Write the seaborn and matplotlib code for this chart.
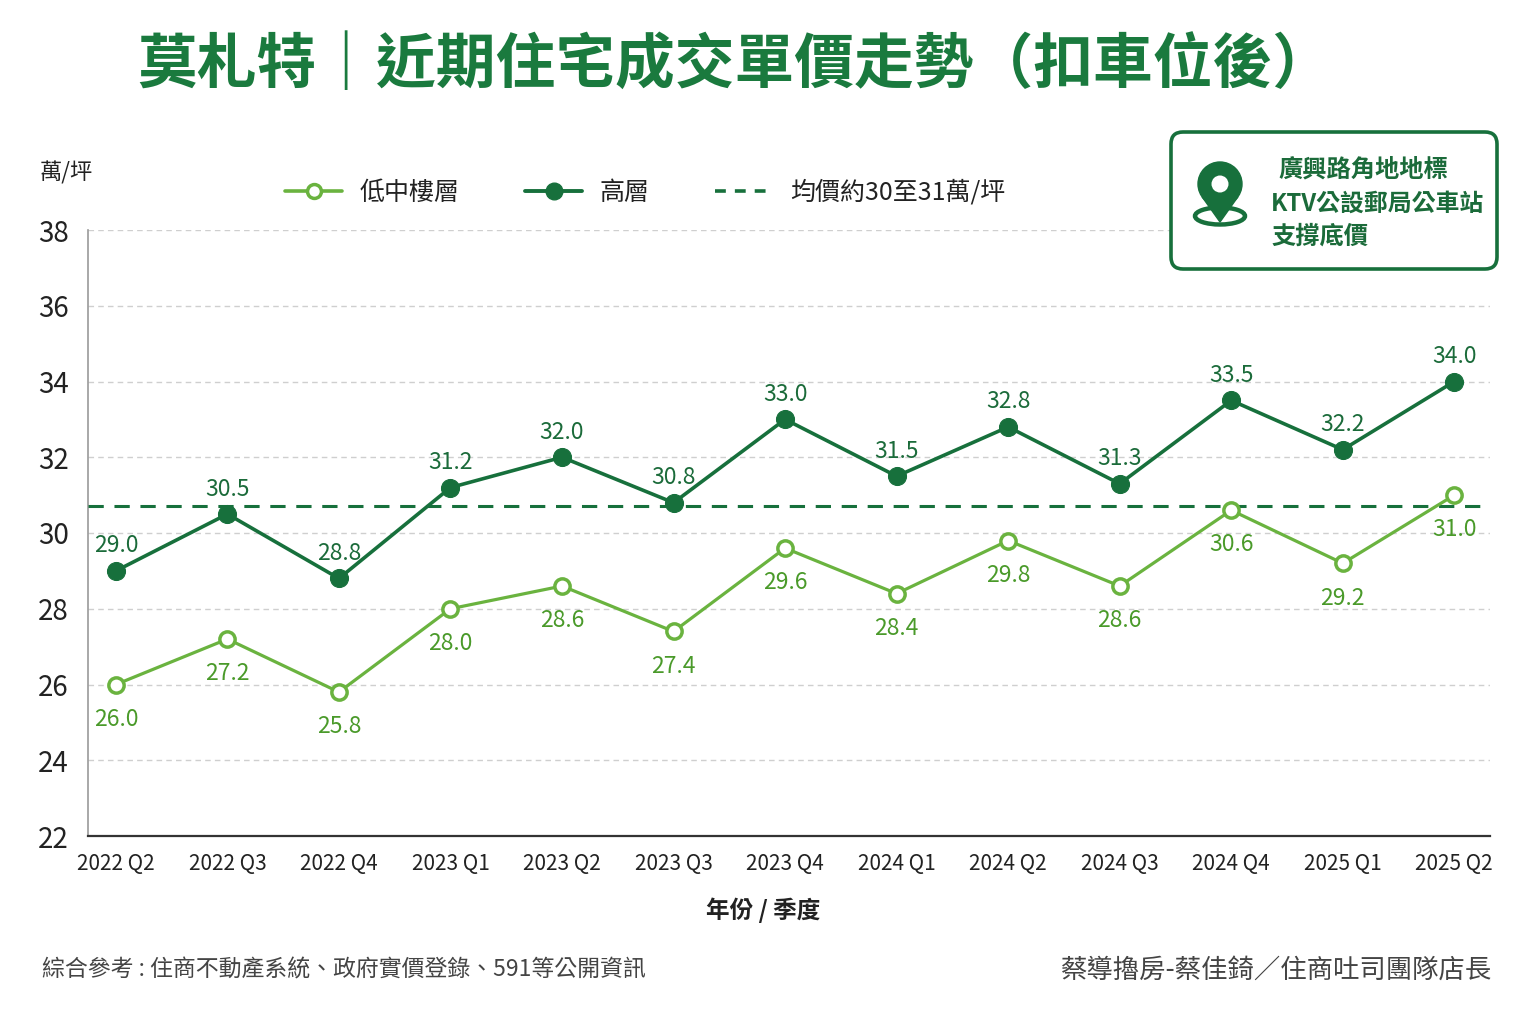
import numpy as np
import pandas as pd
import matplotlib
matplotlib.use('Agg')
import matplotlib.pyplot as plt
from matplotlib.lines import Line2D
from matplotlib.patches import FancyBboxPatch, Circle, Polygon, Ellipse
import seaborn as sns

# Dados
quarters = ['2022 Q2', '2022 Q3', '2022 Q4', '2023 Q1', '2023 Q2', '2023 Q3', '2023 Q4',
            '2024 Q1', '2024 Q2', '2024 Q3', '2024 Q4', '2025 Q1', '2025 Q2']
low_mid = [26.0, 27.2, 25.8, 28.0, 28.6, 27.4, 29.6, 28.4, 29.8, 28.6, 30.6, 29.2, 31.0]
high = [29.0, 30.5, 28.8, 31.2, 32.0, 30.8, 33.0, 31.5, 32.8, 31.3, 33.5, 32.2, 34.0]
avg_price = 30.7
yticks = [22, 24, 26, 28, 30, 32, 34, 36, 38]

DARK = '#17703c'
LIGHT = '#6ab33f'
LIGHT_TXT = '#4a9a2a'
DARK_TXT = '#1b6b3a'

sns.set_theme(style='white')
plt.rcParams['font.family'] = ['Noto Sans CJK TC', 'DejaVu Sans']

df = pd.DataFrame({'pos': np.arange(len(quarters)), 'quarter': quarters,
                   'low': low_mid, 'high': high})

fig = plt.figure(figsize=(15.36, 10.24), dpi=100)
ax = fig.add_axes([88 / 1536, 1 - 836 / 1024, (1490 - 88) / 1536, (836 - 230) / 1024])

sns.lineplot(data=df, x='pos', y='high', ax=ax, color=DARK, lw=2.6, marker='o',
             markersize=13, markerfacecolor=DARK, markeredgecolor=DARK, zorder=4)
sns.lineplot(data=df, x='pos', y='low', ax=ax, color=LIGHT, lw=2.3, marker='o',
             markersize=11, markerfacecolor='white', markeredgecolor=LIGHT,
             markeredgewidth=2.5, zorder=4)
ax.axhline(avg_price, color=DARK, lw=2.2, ls=(0, (5, 3.5)), zorder=3)

for i, v in enumerate(high):
    ax.annotate(f'{v:.1f}', (i, v), xytext=(0, 18), textcoords='offset points',
                ha='center', va='center', fontsize=16.5, color=DARK_TXT)
for i, v in enumerate(low_mid):
    ax.annotate(f'{v:.1f}', (i, v), xytext=(0, -25), textcoords='offset points',
                ha='center', va='center', fontsize=16.5, color=LIGHT_TXT)

ax.set_xlim(-0.25, 12.32)
ax.set_ylim(22, 38)
ax.set_yticks(yticks)
ax.set_yticklabels([str(t) for t in yticks], fontsize=20, color='#222222')
ax.set_xticks(df['pos'])
ax.set_xticklabels(quarters, fontsize=15, color='#222222')
ax.tick_params(axis='both', length=0)
ax.tick_params(axis='x', pad=12)
ax.tick_params(axis='y', pad=14)
ax.set_xlabel('')
ax.set_ylabel('')
ax.yaxis.grid(True, ls=(0, (4, 3)), color='#cfcfcf', lw=1)
ax.xaxis.grid(False)
for s in ['top', 'right']:
    ax.spines[s].set_visible(False)
ax.spines['left'].set_color('#999999')
ax.spines['left'].set_linewidth(1.2)
ax.spines['bottom'].set_color('#333333')
ax.spines['bottom'].set_linewidth(1.6)

# Textos
fig.text(735 / 1536, 1 - 66 / 1024, '莫札特｜近期住宅成交單價走勢（扣車位後）', ha='center',
         va='center', fontsize=43, fontweight='bold', color='#1a7a3e')
fig.text(40 / 1536, 1 - 173 / 1024, '萬/坪', ha='left', va='center', fontsize=16, color='#222222')
fig.text(763 / 1536, 1 - 910 / 1024, '年份 / 季度', ha='center', va='center', fontsize=17,
         fontweight='bold', color='#222222')
fig.text(42 / 1536, 1 - 970 / 1024, '綜合參考 : 住商不動產系統、政府實價登錄、591等公開資訊',
         ha='left', va='center', fontsize=16.5, color='#444444')
fig.text(1492 / 1536, 1 - 970 / 1024, '蔡導擼房-蔡佳錡／住商吐司團隊店長',
         ha='right', va='center', fontsize=19, color='#444444')

# Legenda
handles = [
    Line2D([], [], color=LIGHT, lw=2.6, marker='o', markersize=10, markerfacecolor='white',
           markeredgecolor=LIGHT, markeredgewidth=2.5),
    Line2D([], [], color=DARK, lw=2.8, marker='o', markersize=12, markerfacecolor=DARK,
           markeredgecolor=DARK),
    Line2D([], [], color=DARK, lw=2.6, ls=(0, (3, 2.5))),
]
fig.legend(handles, ['低中樓層', '高層', '均價約30至31萬/坪'], loc='center',
           bbox_to_anchor=(645 / 1536, 1 - 193 / 1024), ncol=3, frameon=False,
           fontsize=18, handlelength=2.3, columnspacing=2.6, handletextpad=0.7,
           labelcolor='#222222')

# Caixa de destaque
ov = fig.add_axes([0, 0, 1, 1], zorder=10)
ov.set_xlim(0, 1536)
ov.set_ylim(1024, 0)
ov.axis('off')
ov.patch.set_alpha(0)
ov.add_patch(FancyBboxPatch((1171, 132), 326, 137, boxstyle='round,pad=0,rounding_size=12',
                            fc='white', ec=DARK, lw=2.6))
ov.add_patch(Ellipse((1220, 216), 50, 17, fc='none', ec=DARK, lw=3.2))
cx, cy, r, tip = 1220, 184, 22, 222
d = tip - cy
th = np.arccos(r / d)
ov.add_patch(Polygon([(cx - r * np.sin(th), cy + r * np.cos(th)),
                      (cx + r * np.sin(th), cy + r * np.cos(th)), (cx, tip)],
                     closed=True, fc=DARK, ec=DARK))
ov.add_patch(Circle((cx, cy), r, fc=DARK, ec=DARK))
ov.add_patch(Circle((cx, cy), 8.5, fc='white', ec='none'))
ov.text(1278, 170, '廣興路角地地標', ha='left', va='center', fontsize=17.5,
        fontweight='bold', color=DARK_TXT)
ov.text(1271, 204, 'KTV公設郵局公車站', ha='left', va='center', fontsize=17.2,
        fontweight='bold', color=DARK_TXT)
ov.text(1271, 237, '支撐底價', ha='left', va='center', fontsize=17.5,
        fontweight='bold', color=DARK_TXT)

fig.savefig('out.png', dpi=100, facecolor='white')
